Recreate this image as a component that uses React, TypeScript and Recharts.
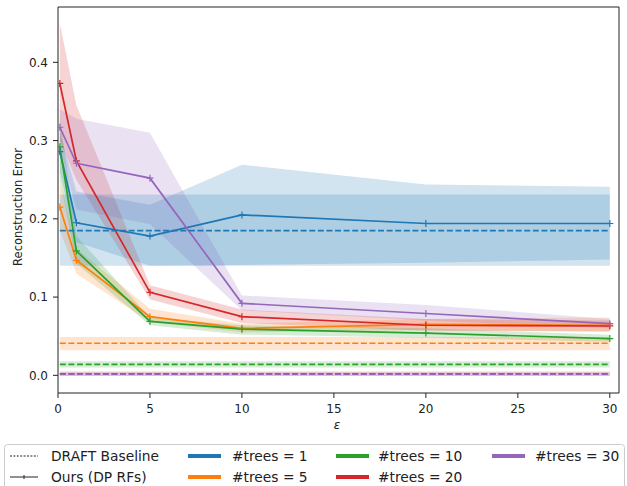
import {
  ComposedChart,
  Area,
  Line,
  XAxis,
  YAxis,
  Label,
  ReferenceLine,
} from "recharts";

// privacy budgets on the x axis
const epsilons = [0.1, 1, 5, 10, 20, 30];
const treeCounts = [1, 5, 10, 20, 30];
const colors = ["#1f77b4", "#ff7f0e", "#2ca02c", "#d62728", "#9467bd"];

// Ours (DP RFs): mean error and spread per tree count
const oursTrees1 = [0.286, 0.195, 0.178, 0.205, 0.194, 0.194];
const oursTrees1Low = [0.26, 0.17, 0.14, 0.141, 0.144, 0.148];
const oursTrees1High = [0.31, 0.235, 0.218, 0.269, 0.244, 0.241];

const oursTrees5 = [0.215, 0.147, 0.075, 0.06, 0.065, 0.064];
const oursTrees5Low = [0.185, 0.13, 0.068, 0.055, 0.058, 0.056];
const oursTrees5High = [0.25, 0.162, 0.085, 0.066, 0.072, 0.074];

const oursTrees10 = [0.292, 0.159, 0.069, 0.059, 0.054, 0.047];
const oursTrees10Low = [0.25, 0.143, 0.064, 0.052, 0.048, 0.043];
const oursTrees10High = [0.33, 0.178, 0.074, 0.064, 0.06, 0.052];

const oursTrees20 = [0.373, 0.274, 0.106, 0.075, 0.064, 0.063];
const oursTrees20Low = [0.3, 0.25, 0.097, 0.067, 0.057, 0.056];
const oursTrees20High = [0.45, 0.345, 0.115, 0.084, 0.072, 0.07];

const oursTrees30 = [0.317, 0.271, 0.252, 0.092, 0.079, 0.066];
const oursTrees30Low = [0.29, 0.212, 0.193, 0.083, 0.07, 0.06];
const oursTrees30High = [0.34, 0.328, 0.31, 0.102, 0.09, 0.072];

// DRAFT baseline (constant over epsilon), one entry per tree count
const draftMean = [0.185, 0.041, 0.014, 0.002, 0.0015];
const draftLow = [0.14, 0.032, 0.01, -0.001, -0.001];
const draftHigh = [0.231, 0.049, 0.018, 0.005, 0.004];

const yTicks = [0, 0.1, 0.2, 0.3, 0.4];
const xTicks = [0, 5, 10, 15, 20, 25, 30];
const xDomain = [0, 30.5];
const yDomain = [-0.0226, 0.4707];

const ours = [
  { mean: oursTrees1, low: oursTrees1Low, high: oursTrees1High },
  { mean: oursTrees5, low: oursTrees5Low, high: oursTrees5High },
  { mean: oursTrees10, low: oursTrees10Low, high: oursTrees10High },
  { mean: oursTrees20, low: oursTrees20Low, high: oursTrees20High },
  { mean: oursTrees30, low: oursTrees30Low, high: oursTrees30High },
];

const data = epsilons.map((eps, i) => {
  const row: Record<string, any> = { eps };
  treeCounts.forEach((_, k) => {
    row[`ours${k}`] = ours[k].mean[i];
    row[`oursBand${k}`] = [ours[k].low[i], ours[k].high[i]];
    row[`draft${k}`] = draftMean[k];
    row[`draftBand${k}`] = [draftLow[k], draftHigh[k]];
  });
  return row;
});

const FONT = "'DejaVu Sans', sans-serif";

function plusDot(color: string) {
  return (p: any) => {
    const { cx, cy, index } = p;
    if (cx == null || cy == null) return <g key={index} />;
    return (
      <path
        key={index}
        d={`M${cx - 3.5},${cy}h7M${cx},${cy - 3.5}v7`}
        stroke={color}
        strokeWidth={1.2}
        fill="none"
      />
    );
  };
}

function LegendBox() {
  const text = { fontFamily: FONT, fontSize: 13.8, fill: "#222" };
  const cols = [
    { hx: 188, tx: 232 },
    { hx: 336, tx: 378 },
    { hx: 492, tx: 535 },
  ];
  const rows = [12, 33];
  return (
    <svg
      width={621}
      height={50}
      style={{ position: "absolute", left: 4, top: 444 }}
    >
      <rect x={0.5} y={0.5} width={620} height={60} rx={3} fill="#fff" stroke="#ccc" />
      <line x1={6} x2={34} y1={rows[0]} y2={rows[0]} stroke="#222" strokeWidth={1} strokeDasharray="2 1.4" />
      <text x={47} y={rows[0] + 5} {...text}>DRAFT Baseline</text>
      <line x1={6} x2={34} y1={rows[1]} y2={rows[1]} stroke="#222" strokeWidth={1} />
      <path d={`M20,${rows[1] - 2}v4`} stroke="#222" strokeWidth={1} />
      <text x={47} y={rows[1] + 5} {...text}>Ours (DP RFs)</text>
      {treeCounts.map((n, k) => {
        const c = cols[Math.floor(k / 2)];
        const y = rows[k % 2];
        return (
          <g key={n}>
            <line x1={c.hx - 4} x2={c.hx + 29} y1={y} y2={y} stroke={colors[k]} strokeWidth={4} />
            <text x={c.tx - 4} y={y + 5} {...text}>{`#trees = ${n}`}</text>
          </g>
        );
      })}
    </svg>
  );
}

export default function App() {
  const tick = { fontFamily: FONT, fontSize: 12, fill: "#222" };
  return (
    <div style={{ position: "absolute", left: 0, top: 0, width: 627, height: 486, overflow: "hidden", background: "#fff" }}>
      <ComposedChart
        width={627}
        height={486}
        data={data}
        margin={{ top: 7, right: 8, bottom: 0, left: 0 }}
      >
        <XAxis
          dataKey="eps"
          type="number"
          domain={xDomain}
          ticks={xTicks}
          allowDataOverflow
          height={93}
          tickSize={5}
          tickMargin={6}
          tick={tick}
          stroke="#222"
          tickLine={{ stroke: "#222" }}
        >
          <Label
            content={() => (
              <text x={337} y={429} textAnchor="middle" fontFamily={FONT} fontSize={12} fontStyle="italic" fill="#222">
                ε
              </text>
            )}
          />
        </XAxis>
        <YAxis
          type="number"
          domain={yDomain}
          ticks={yTicks}
          allowDataOverflow
          width={58}
          tickSize={5}
          tickMargin={5}
          tick={tick}
          tickFormatter={(v: number) => v.toFixed(1)}
          stroke="#222"
        >
          <Label
            content={() => (
              <text x={22} y={207} transform="rotate(-90 22 207)" textAnchor="middle" fontFamily={FONT} fontSize={11.5} fill="#222">
                Reconstruction Error
              </text>
            )}
          />
        </YAxis>

        {treeCounts.map((n, k) => (
          <Area
            key={`ob${n}`}
            dataKey={`oursBand${k}`}
            type="linear"
            stroke="none"
            fill={colors[k]}
            fillOpacity={0.2}
            isAnimationActive={false}
            activeDot={false}
          />
        ))}
        {treeCounts.map((n, k) => (
          <Area
            key={`db${n}`}
            dataKey={`draftBand${k}`}
            type="linear"
            stroke="none"
            fill={colors[k]}
            fillOpacity={0.2}
            isAnimationActive={false}
            activeDot={false}
          />
        ))}
        {treeCounts.map((n, k) => (
          <Line
            key={`ol${n}`}
            dataKey={`ours${k}`}
            type="linear"
            stroke={colors[k]}
            strokeWidth={1.7}
            dot={plusDot(colors[k])}
            activeDot={false}
            isAnimationActive={false}
          />
        ))}
        {treeCounts.map((n, k) => (
          <Line
            key={`dl${n}`}
            dataKey={`draft${k}`}
            type="linear"
            stroke={colors[k]}
            strokeWidth={1.7}
            strokeDasharray="6 2.6"
            dot={false}
            activeDot={false}
            isAnimationActive={false}
          />
        ))}

        {/* closing frame: top and right spines */}
        <ReferenceLine y={yDomain[1]} stroke="#222" strokeWidth={1} />
        <ReferenceLine x={xDomain[1]} stroke="#222" strokeWidth={1} />
      </ComposedChart>
      <LegendBox />
    </div>
  );
}
